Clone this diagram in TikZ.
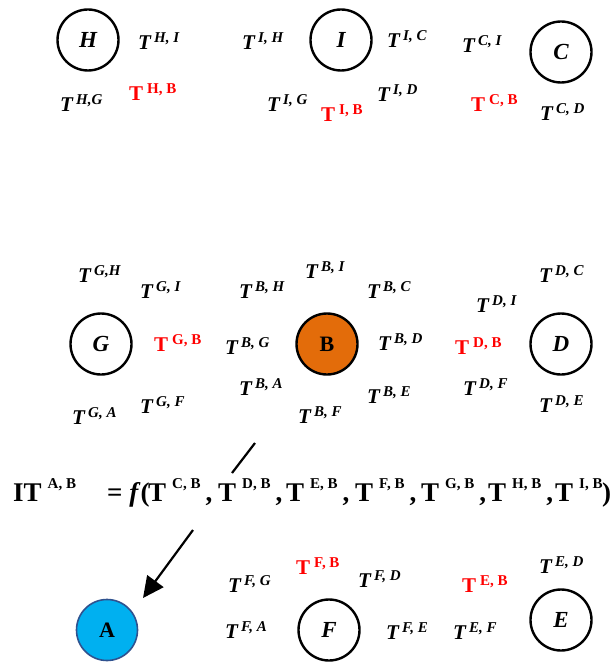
\documentclass[tikz,border=0pt]{standalone}
\usepackage{fontspec}
\setmainfont{Liberation Serif}
\usetikzlibrary{arrows.meta}
\definecolor{borange}{RGB}{227,108,10}
\definecolor{bblue}{RGB}{0,176,240}
\definecolor{bborder}{RGB}{47,82,143}
\newcommand\lblT[1]{\textbf{\textit{T}}\hspace{2.5pt}\raisebox{7pt}{\fontsize{15}{15}\selectfont\bfseries\itshape #1}}
\newcommand\redT[1]{\textbf{T}\hspace{4pt}\raisebox{7pt}{\fontsize{15}{15}\selectfont\bfseries #1}}
\newcommand\fmS[1]{\textbf{T}\hspace{6pt}\raisebox{13pt}{\fontsize{15}{15}\selectfont\bfseries #1, B}}
\newcommand\fmT[1]{\fmS{#1}\hspace{5pt}\textbf{,}}
\begin{document}
\begin{tikzpicture}[x=1pt,y=-1pt,
  nd/.style={circle,draw,line width=2.4pt,minimum size=61pt,inner sep=0pt,
    font=\fontsize{23}{23}\selectfont\bfseries\itshape},
  tl/.style={anchor=base west,inner sep=0pt,font=\fontsize{21}{21}\selectfont},
  rt/.style={tl,text=red},
  fm/.style={anchor=base west,inner sep=0pt,font=\fontsize{27}{27}\selectfont\bfseries}]
\useasboundingbox (0,0) rectangle (611,663);

% circles
\node[nd] (H) at (88,40) {H};
\node[nd] (I) at (341,40) {I};
\node[nd] (C) at (561,52) {C};
\node[nd] (G) at (101,344) {G};
\node[nd,fill=borange,font=\fontsize{22}{22}\selectfont\bfseries] (B) at (327,344) {B};
\node[nd] (D) at (561,344) {D};
\node[nd,fill=bblue,draw=bborder,line width=1.6pt,font=\fontsize{22}{22}\selectfont\bfseries] (A) at (107,630) {A};
\node[nd] (F) at (329,630) {F};
\node[nd] (E) at (561,620) {E};

% top row labels
\node[tl] (tHI) at (138,50) {\lblT{H, I}};
\node[tl] (tIH) at (242,50) {\lblT{I, H}};
\node[tl] (tHG) at (60,112) {\lblT{H,G}};
\node[rt] (tHB) at (129,101) {\redT{H, B}};
\node[tl] (tIG) at (267,112) {\lblT{I, G}};
\node[tl] (tIC) at (387,48) {\lblT{I, C}};
\node[tl] (tCI) at (462,53) {\lblT{C, I}};
\node[tl] (tID) at (377,102) {\lblT{I, D}};
\node[rt] (tIB) at (321,122) {\redT{I, B}};
\node[rt] (tCB) at (471,112) {\redT{C, B}};
\node[tl] (tCD) at (540,121) {\lblT{C, D}};

% middle row labels
\node[tl] (tGH) at (78,282) {\lblT{G,H}};
\node[tl] (tGI) at (140,298) {\lblT{G, I}};
\node[tl] (tBH) at (239,298) {\lblT{B, H}};
\node[rt] (tGB) at (154,351) {\redT{G, B}};
\node[tl] (tBG) at (225,354) {\lblT{B, G}};
\node[tl] (tBA) at (239,395) {\lblT{B, A}};
\node[tl] (tGF) at (140,413) {\lblT{G, F}};
\node[tl] (tGA) at (72,424) {\lblT{G, A}};
\node[tl] (tBI) at (305,278) {\lblT{B, I}};
\node[tl] (tBC) at (367,298) {\lblT{B, C}};
\node[tl] (tDC) at (539,282) {\lblT{D, C}};
\node[tl] (tDI) at (476,312) {\lblT{D, I}};
\node[tl] (tBD) at (378,350) {\lblT{B, D}};
\node[rt] (tDB) at (455,354) {\redT{D, B}};
\node[tl] (tDF) at (463,395) {\lblT{D, F}};
\node[tl] (tBE) at (367,403) {\lblT{B, E}};
\node[tl] (tDE) at (539,412) {\lblT{D, E}};
\node[tl] (tBF) at (298,423) {\lblT{B, F}};

% bottom row labels
\node[tl] (tFG) at (228,592) {\lblT{F, G}};
\node[tl] (tFA) at (225,638) {\lblT{F, A}};
\node[rt] (tFB) at (296,574) {\redT{F, B}};
\node[tl] (tFD) at (358,587) {\lblT{F, D}};
\node[tl] (tFE) at (386,639) {\lblT{F, E}};
\node[rt] (tEB) at (462,592) {\redT{E, B}};
\node[tl] (tEF) at (453,639) {\lblT{E, F}};
\node[tl] (tED) at (539,573) {\lblT{E, D}};

% formula
\node[fm] (IT) at (13,501) {IT\hspace{6pt}\raisebox{13pt}{\fontsize{15}{15}\selectfont\bfseries A, B}};
\node[fm] (eq) at (107,501) {= \textit{f}(};
\foreach \k/\xx in {C/148,D/218,E/286,F/355,G/421,H/488}
  \node[fm] (f\k) at (\xx,501) {\fmT{\k}};
\node[fm] (fI) at (555,501) {\fmS{I}};
\node[fm] (cl) at (602,501) {)};

% slash and arrow
\coordinate (s1) at (255,443);
\coordinate (s2) at (232,473);
\draw[line width=2.2pt] (s1) -- (s2);
\coordinate (a1) at (193,530);
\coordinate (a2) at (143,598);
\draw[line width=2.2pt,-{Triangle[length=21pt,width=20pt]}] (a1) -- (a2);
\end{tikzpicture}
\end{document}
